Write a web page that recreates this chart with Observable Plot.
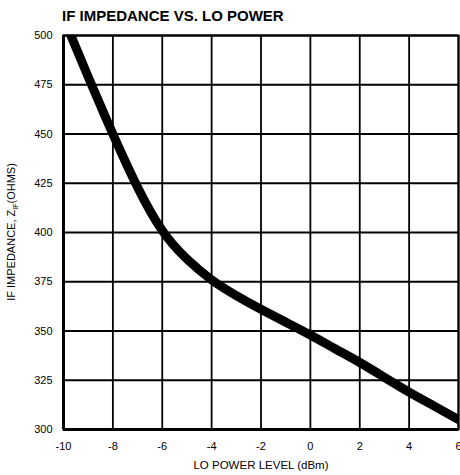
<!DOCTYPE html>
<html>
<head>
<meta charset="utf-8">
<script src="https://cdn.jsdelivr.net/npm/d3@7"></script>
<script src="https://cdn.jsdelivr.net/npm/@observablehq/plot@0.6"></script>
<style>
  body { margin: 0; background: #fff; font-family: "Liberation Sans", Arial, sans-serif; }
  #title { height: 28px; padding-left: 62px; font-weight: bold; font-size: 15px; line-height: 32px; color: #000; box-sizing: border-box; }
</style>
</head>
<body>
<div id="title">IF IMPEDANCE VS. LO POWER</div>
<div id="chart"></div>
<script>
const loPower = [-9.7, -9, -8, -7, -6, -5, -4, -3, -2, -1, 0, 1, 2, 3, 4, 5, 6];
const impedance = [500, 479, 450, 423, 401, 386.5, 376, 368, 361, 354.5, 348, 341, 334, 326.5, 319, 312, 305];
const xTicks = [-10, -8, -6, -4, -2, 0, 2, 4, 6];
const yTicks = [300, 325, 350, 375, 400, 425, 450, 475, 500];
const xLabel = "LO POWER LEVEL (dBm)";
const yLabelMain = "IF IMPEDANCE, Z";
const yLabelSub = "IF";
const yLabelEnd = "(OHMS)";

const data = loPower.map((x, i) => ({x, y: impedance[i]}));

const W = 460, H = 447;
const plot = Plot.plot({
  width: W, height: H,
  marginLeft: 63, marginRight: 2, marginTop: 7, marginBottom: 46,
  style: {fontFamily: "'Liberation Sans', Arial, sans-serif", fontSize: "11px", color: "#000", background: "#fff"},
  x: {domain: [-10, 6], ticks: xTicks, tickFormat: d => String(d), label: null},
  y: {domain: [300, 500], ticks: yTicks, tickFormat: d => String(d), label: null},
  marks: [
    Plot.gridX(xTicks, {stroke: "#000", strokeOpacity: 1, strokeWidth: 1.8}),
    Plot.gridY(yTicks, {stroke: "#000", strokeOpacity: 1, strokeWidth: 1.8}),
    Plot.frame({stroke: "#000", strokeWidth: 2}),
    Plot.ruleX([-10], {stroke: "#000", strokeWidth: 3}),
    Plot.ruleY([300], {stroke: "#000", strokeWidth: 3}),
    Plot.axisX({ticks: xTicks, tickSize: 0, tickPadding: 13, tickFormat: d => String(d), fill: "#000"}),
    Plot.axisY({ticks: yTicks, tickSize: 0, tickPadding: 11, tickFormat: d => String(d), fill: "#000"}),
    Plot.line(data, {x: "x", y: "y", stroke: "#000", strokeWidth: 9, curve: "natural", clip: true}),
    Plot.text([xLabel], {frameAnchor: "bottom", dy: 39, text: d => d, fontSize: 11.5, fill: "#000"})
  ]
});
document.getElementById("chart").appendChild(plot);

// y-axis label with subscript
const svg = d3.select(plot);
const cy = 7 + (H - 7 - 46) / 2;
const t = svg.append("text")
  .attr("transform", `translate(15,${cy}) rotate(-90)`)
  .attr("text-anchor", "middle")
  .attr("font-size", 11)
  .attr("fill", "#000");
t.append("tspan").text(yLabelMain);
t.append("tspan").attr("font-size", 7).attr("dy", 3).text(yLabelSub);
t.append("tspan").attr("dy", -3).text(yLabelEnd);
</script>
</body>
</html>
